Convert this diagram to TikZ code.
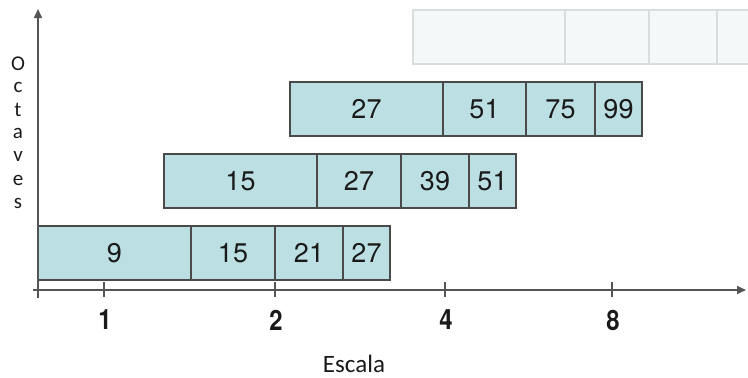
\documentclass[tikz,border=0pt]{standalone}
\usepackage{fontspec}
\setmainfont{TeX Gyre Heros}
\newfontfamily\arialf{TeX Gyre Heros}
\newfontfamily\calib{Carlito}
\usetikzlibrary{arrows.meta}
\definecolor{cellfill}{HTML}{BBDFE2}
\definecolor{celledge}{HTML}{4A4A4A}
\definecolor{fadefill}{HTML}{F4F8F9}
\definecolor{fadeedge}{HTML}{DADDDE}
\definecolor{axisgray}{HTML}{555555}
\definecolor{txt}{HTML}{1A1A1A}
\tikzset{
  cell/.style={draw=celledge, fill=cellfill, line width=1.2pt, minimum height=54pt, inner sep=0pt, outer sep=0pt, anchor=north west, text=txt, font=\arialf\fontsize{27}{27}\selectfont},
  fadecell/.style={draw=fadeedge, fill=fadefill, line width=1.4pt, minimum height=54pt, inner sep=0pt, outer sep=0pt, anchor=north west},
  axisline/.style={draw=axisgray, line width=1.6pt},
  tickmark/.style={draw=axisgray, line width=1.4pt},
  ticklabel/.style={text=txt, font=\arialf\bfseries\fontsize{28}{28}\selectfont, inner sep=0pt, xscale=0.85},
  octletter/.style={text=txt, font=\calib\fontsize{21}{21}\selectfont, inner sep=0pt},
}
\begin{document}
\begin{tikzpicture}[x=1pt,y=-1pt]
\useasboundingbox (0,0) rectangle (748,378);
% faded top row
\begin{scope}
\clip (0,0) rectangle (748,378);
\node[fadecell, minimum width=152pt] (f1) at (413,10) {};
\node[fadecell, minimum width=84pt] (f2) at (f1.north east) {};
\node[fadecell, minimum width=68pt] (f3) at (f2.north east) {};
\node[fadecell, minimum width=47pt] (f4) at (f3.north east) {};
\end{scope}
% row 3
\node[cell, minimum width=153pt] (c1) at (290,82) {27};
\node[cell, minimum width=83pt] (c2) at (c1.north east) {51};
\node[cell, minimum width=69pt] (c3) at (c2.north east) {75};
\node[cell, minimum width=47pt] (c4) at (c3.north east) {99};
% row 2
\node[cell, minimum width=153pt] (b1) at (164,154) {15};
\node[cell, minimum width=84pt] (b2) at (b1.north east) {27};
\node[cell, minimum width=68pt] (b3) at (b2.north east) {39};
\node[cell, minimum width=47pt] (b4) at (b3.north east) {51};
% row 1
\node[cell, minimum width=153pt] (a1) at (38,226) {9};
\node[cell, minimum width=84pt] (a2) at (a1.north east) {15};
\node[cell, minimum width=68pt] (a3) at (a2.north east) {21};
\node[cell, minimum width=47pt] (a4) at (a3.north east) {27};
% axes
\coordinate (xs) at (33,290);
\coordinate (xe) at (746,290);
\coordinate (ys) at (38,298);
\coordinate (ye) at (38,9);
\draw[axisline, -{Triangle[length=9pt,width=8pt]}] (xs) -- (xe);
\draw[axisline, -{Triangle[length=9pt,width=8pt]}] (ys) -- (ye);
% ticks
\foreach \x/\lab/\nm in {104/1/t1, 275/2/t2, 445/4/t4, 612/8/t8}{
  \draw[tickmark] (\x,282) -- (\x,297);
  \node[ticklabel] (\nm) at (\x+1,320) {\lab};
}
% axis titles
\node[text=txt, font=\calib\fontsize{25}{25}\selectfont, inner sep=0pt] (esc) at (354,364) {Escala};
\foreach \ch [count=\i from 0] in {O,c,t,a,v,e,s}{
  \node[octletter] (o\i) at (18,64+23.2*\i) {\ch};
}
\end{tikzpicture}
\end{document}
